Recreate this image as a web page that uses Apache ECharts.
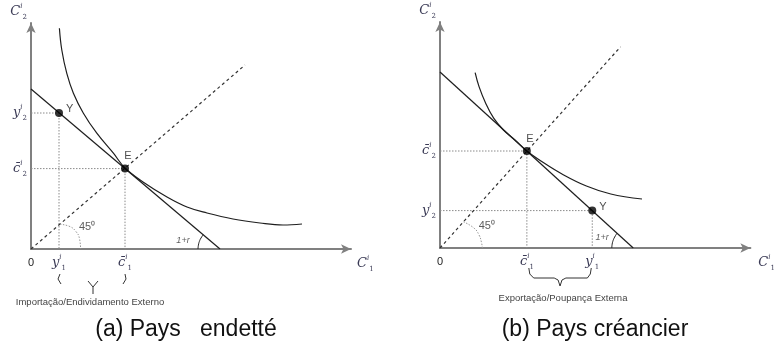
<!DOCTYPE html>
<html>
<head>
<meta charset="utf-8">
<script src="https://cdn.jsdelivr.net/npm/echarts@6/dist/echarts.min.js"></script>
<style>
  html, body { margin: 0; background: #fff; }
  #chart { width: 778px; height: 347px; }
</style>
</head>
<body>
<div id="chart"></div>
<script>
// ---- panel (a): pays endetté ----
const budgetA = [[0, 8.0], [9.45, 0]];
const diagA = [[0, 0], [10.7, 9.2]];
const indiffA = [
  [1.42, 11.04], [1.54, 9.95], [1.79, 8.78], [2.12, 7.79], [2.62, 6.79],
  [3.29, 5.79], [4.12, 4.79], [4.7, 4.05], [5.6, 3.35], [6.8, 2.6],
  [7.8, 2.1], [8.8, 1.8], [10.1, 1.5], [11.45, 1.3], [12.6, 1.2], [13.55, 1.25]
];
const pointsA = [['Y', 1.4, 6.8], ['E', 4.7, 4.02]];
const xTicksA = [0, 1.4, 4.7];
const xLabelsA = [['0'], ['y', '1'], ['c̄', '1']];
const yTicksA = [4.02, 6.8];
const yLabelsA = [['c̄', '2'], ['y', '2']];
const arc45A = [[1.45, 1.24], [1.95, 1.12], [2.25, 0.87], [2.42, 0.54], [2.48, 0]];
const arcRateA = [[8.35, 0], [8.37, 0.19], [8.42, 0.38], [8.5, 0.55], [8.61, 0.71]];
const notesA = [['45⁰', 2.8, 1.1], ['1+r', 7.6, 0.45]];
const braceA = [
  [[1.45, -1.25], [1.35, -1.5], [1.5, -1.75]],
  [[4.7, -1.25], [4.75, -1.5], [4.6, -1.75]],
  [[2.85, -1.6], [3.1, -1.9], [3.35, -1.6]],
  [[3.1, -1.9], [3.1, -2.25]]
];
const captionA = '(a) Pays   endetté';
const braceTextA = 'Importação/Endividamento Externo';

// ---- panel (b): pays créancier ----
const budgetB = [[0, 8.8], [9.9, 0]];
const diagB = [[0, 0], [9.25, 10.06]];
const indiffB = [
  [1.8, 8.77], [2.0, 8.07], [2.34, 7.24], [2.75, 6.49], [3.25, 5.9],
  [3.84, 5.4], [4.45, 4.85], [5.25, 4.3], [6.25, 3.7], [7.5, 3.1],
  [8.75, 2.7], [10.35, 2.45]
];
const pointsB = [['E', 4.45, 4.85], ['Y', 7.8, 1.87]];
const xTicksB = [0, 4.45, 7.8];
const xLabelsB = [['0'], ['c̄', '1'], ['y', '1']];
const yTicksB = [1.87, 4.85];
const yLabelsB = [['y', '2'], ['c̄', '2']];
const arc45B = [[1.2, 1.31], [1.75, 0.99], [2.0, 0.65], [2.12, 0.3], [2.17, 0]];
const arcRateB = [[8.8, 0], [8.82, 0.19], [8.87, 0.38], [8.95, 0.55], [9.07, 0.74]];
const notesB = [['45⁰', 2.4, 1.1], ['1+r', 8.3, 0.55]];
const braceB = [[
  [4.55, -1.0], [4.6, -1.3], [4.8, -1.5], [5.85, -1.5], [6.05, -1.6], [6.15, -1.9],
  [6.25, -1.6], [6.45, -1.5], [7.55, -1.5], [7.7, -1.3], [7.75, -1.0]
]];
const captionB = '(b) Pays créancier';
const braceTextB = 'Exportação/Poupança Externa';

const ink = '#1e1e1e';
const labelInk = '#3a3a55';
const serif = 'DejaVu Serif';

const mathRich = {
  m: { fontFamily: serif, fontStyle: 'italic', fontSize: 13, color: labelInk, lineHeight: 18 },
  p: { fontFamily: serif, fontStyle: 'italic', fontSize: 7, color: labelInk, verticalAlign: 'top', lineHeight: 18 },
  b: { fontFamily: serif, fontSize: 7, color: labelInk, verticalAlign: 'bottom', lineHeight: 18 },
  n: { fontFamily: 'Liberation Sans', fontSize: 11, color: '#222', lineHeight: 18 }
};
const math = (parts) => parts.length > 1
  ? `{m|${parts[0]}}{p|i}{b|${parts[1]}}`
  : `{n|${parts[0]}}`;
const tickFmt = (ticks, labels) => (v) => {
  const i = ticks.findIndex(t => Math.abs(t - v) < 1e-6);
  return i < 0 ? '' : math(labels[i]);
};

const noteStyle = {
  '45⁰': { fontFamily: 'Liberation Sans', fontSize: 11, color: '#333' },
  '1+r': { fontFamily: 'Liberation Sans', fontStyle: 'italic', fontSize: 9, color: '#333' }
};

const panels = [
  {
    grid: { left: 31, top: 23, width: 320, height: 226 }, xMax: 16, yMax: 11.3,
    budget: budgetA, diag: diagA, indiff: indiffA, points: pointsA,
    xTicks: xTicksA, xLabels: xLabelsA, yTicks: yTicksA, yLabels: yLabelsA,
    arc45: arc45A, arcRate: arcRateA, notes: notesA, brace: braceA,
    yNameShift: 4, xNameGap: 6
  },
  {
    grid: { left: 440, top: 22, width: 318, height: 226 }, xMax: 15.9, yMax: 11.3,
    budget: budgetB, diag: diagB, indiff: indiffB, points: pointsB,
    xTicks: xTicksB, xLabels: xLabelsB, yTicks: yTicksB, yLabels: yLabelsB,
    arc45: arc45B, arcRate: arcRateB, notes: notesB, brace: braceB,
    yNameShift: 4, xNameGap: 8
  }
];

const axisLine = {
  lineStyle: { color: '#808080', width: 2 },
  symbol: ['none', 'arrow'],
  symbolSize: [7, 10]
};

const grids = [], xAxes = [], yAxes = [], series = [];
panels.forEach((p, k) => {
  grids.push(p.grid);
  xAxes.push({
    gridIndex: k, type: 'value', min: 0, max: p.xMax,
    axisLine, axisTick: { show: false }, splitLine: { show: false },
    axisLabel: { customValues: p.xTicks, formatter: tickFmt(p.xTicks, p.xLabels), rich: mathRich, margin: 5 },
    name: math(['C', '1']), nameLocation: 'end', nameGap: p.xNameGap,
    nameTextStyle: { rich: mathRich, align: 'left', verticalAlign: 'top', padding: [6, 0, 0, 0] }
  });
  yAxes.push({
    gridIndex: k, type: 'value', min: 0, max: p.yMax,
    axisLine, axisTick: { show: false }, splitLine: { show: false },
    axisLabel: { customValues: p.yTicks, formatter: tickFmt(p.yTicks, p.yLabels), rich: mathRich, margin: 4 },
    name: math(['C', '2']), nameLocation: 'end', nameGap: 2,
    nameTextStyle: { rich: mathRich, align: 'right', verticalAlign: 'bottom', padding: [0, p.yNameShift, 0, 0] }
  });

  const base = { xAxisIndex: k, yAxisIndex: k, silent: true, symbol: 'none' };
  // guide lines from each point to both axes
  p.points.forEach(([, x, y]) => {
    series.push({ ...base, type: 'line', data: [[0, y], [x, y], [x, 0]],
      lineStyle: { color: '#8a8a8a', width: 1, type: [1.5, 1.5] }, z: 1 });
  });
  series.push({ ...base, type: 'line', data: p.diag,
    lineStyle: { color: '#333', width: 1.2, type: [3, 3] }, z: 2 });
  series.push({ ...base, type: 'line', data: p.budget,
    lineStyle: { color: ink, width: 1.2 }, z: 3 });
  series.push({ ...base, type: 'line', data: p.indiff, smooth: 0.4,
    lineStyle: { color: ink, width: 1.2 }, z: 3 });
  series.push({ ...base, type: 'line', data: p.arc45, smooth: 0.5,
    lineStyle: { color: '#999', width: 1, type: [1.5, 1.5] }, z: 2 });
  series.push({ ...base, type: 'line', data: p.arcRate, smooth: 0.5,
    lineStyle: { color: ink, width: 1 }, z: 3 });
  p.brace.forEach(seg => {
    series.push({ ...base, type: 'line', data: seg, clip: false,
      lineStyle: { color: '#333', width: 1 }, z: 3 });
  });
  series.push({
    ...base, type: 'scatter', symbol: 'circle', symbolSize: 8, z: 5,
    itemStyle: { color: '#000' },
    data: p.points.map(([name, x, y]) => ({
      name, value: [x, y],
      label: name === 'Y'
        ? { show: true, position: 'right', distance: 3, offset: [0, -4] }
        : { show: true, position: 'top', distance: 3, offset: [3, 0] }
    })),
    label: { formatter: '{b}', fontFamily: 'Liberation Sans', fontSize: 11, color: '#222' }
  });
  series.push({
    ...base, type: 'scatter', symbol: 'circle', symbolSize: 2, z: 5,
    itemStyle: { color: 'rgba(0,0,0,0)' },
    data: p.notes.map(([name, x, y]) => ({
      name, value: [x, y],
      label: { show: true, position: 'inside', formatter: '{b}', ...noteStyle[name] }
    }))
  });
});

const textStyle = (text, x, y, font, fill) => ({
  type: 'text', x, y,
  style: { text, font, fill, textAlign: 'center', textVerticalAlign: 'middle' }
});

const chart = echarts.init(document.getElementById('chart'));
chart.setOption({
  animation: false,
  grid: grids,
  xAxis: xAxes,
  yAxis: yAxes,
  series,
  graphic: [
    textStyle(braceTextA, 90, 302, '9.5px "Liberation Sans"', '#444'),
    textStyle(braceTextB, 563, 298, '9.5px "Liberation Sans"', '#444'),
    textStyle(captionA, 186, 330, '23px "Liberation Sans"', '#111'),
    textStyle(captionB, 595, 330, '23px "Liberation Sans"', '#111')
  ]
});
</script>
</body>
</html>
